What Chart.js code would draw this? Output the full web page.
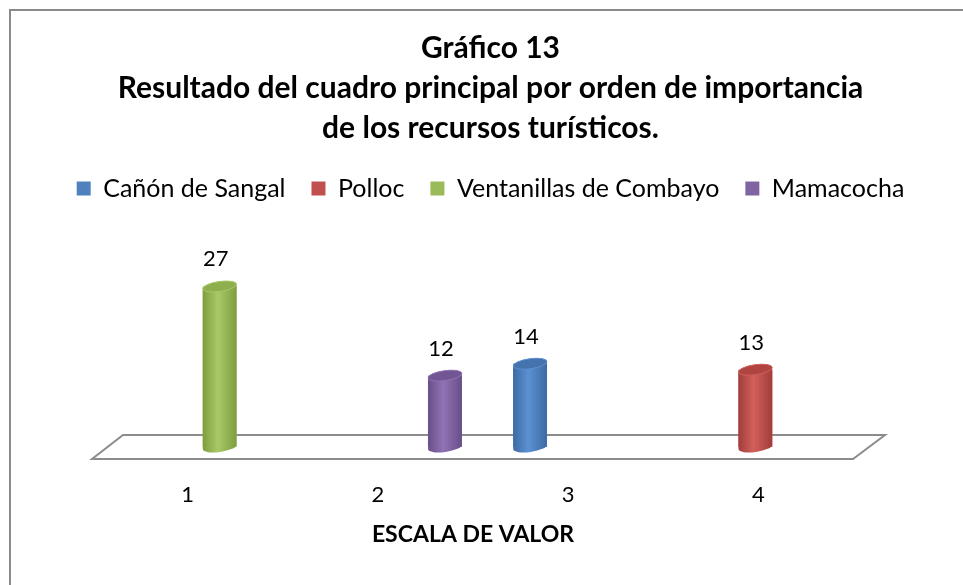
<!DOCTYPE html>
<html>
<head>
<meta charset="utf-8">
<script src="https://cdn.jsdelivr.net/npm/chart.js@4.4.1/dist/chart.umd.min.js"></script>
<style>
  html, body { margin: 0; padding: 0; background: #fff; }
  #wrap { width: 963px; height: 585px; position: relative; }
</style>
</head>
<body>
<div id="wrap"><canvas id="myChart"></canvas></div>
<script>
const categories = ['1', '2', '3', '4'];
const seriesNames = ['Cañón de Sangal', 'Polloc', 'Ventanillas de Combayo', 'Mamacocha'];
const sangal = [null, null, 14, null];
const polloc = [null, null, null, 13];
const ventanillas = [27, null, null, null];
const mamacocha = [null, 12, null, null];
const titleLines = ['Gráfico 13', 'Resultado del cuadro principal por orden de importancia', 'de los recursos turísticos.'];
const axisTitle = 'ESCALA DE VALOR';

const FONT = 'Lato';
// flat / dark edge / light centre / cap
const palette = [
    ['#4f81bd', '#3d6aa3', '#5c91d3', '#4473ae'],
    ['#c0504d', '#a03d3a', '#d2605d', '#b0443f'],
    ['#9bbb59', '#7e9d40', '#a9c967', '#8fae4e'],
    ['#8064a2', '#684e88', '#9073b4', '#725693']
];
const ctx = document.getElementById('myChart');

const scene = {
    id: 'scene',
    beforeDraw(chart) {
        const c = chart.ctx;
        c.save();
        c.strokeStyle = '#8a8a8a';
        c.lineWidth = 2;
        c.strokeRect(10, 10, chart.width + 10, chart.height + 10);
        c.restore();
    },
    beforeDatasetsDraw(chart) {
        // the 3D floor under the cylinders
        const c = chart.ctx, a = chart.chartArea;
        const y0 = chart.scales.y.getPixelForValue(0);
        const d = 12;
        c.save();
        c.beginPath();
        c.moveTo(a.left - 15, y0 + d);
        c.lineTo(a.left + 16, y0 - d);
        c.lineTo(a.right + 17, y0 - d);
        c.lineTo(a.right - 15, y0 + d);
        c.closePath();
        c.fillStyle = '#fff';
        c.fill();
        c.strokeStyle = '#8c8c8c';
        c.lineWidth = 2;
        c.stroke();
        c.restore();
    },
    afterDatasetsDraw(chart) {
        const c = chart.ctx;
        c.save();
        chart.data.datasets.forEach((ds, i) => {
            const meta = chart.getDatasetMeta(i);
            const col = palette[i];
            meta.data.forEach((el, j) => {
                if (ds.data[j] == null) return;
                const r = el.width / 2, x = el.x, top = el.y, base = el.base;
                const ry = 5, tilt = -0.14;
                const g = c.createLinearGradient(x - r, 0, x + r, 0);
                g.addColorStop(0, col[1]);
                g.addColorStop(0.45, col[2]);
                g.addColorStop(1, col[1]);
                c.fillStyle = g;
                c.beginPath();
                c.ellipse(x, base, r, ry, tilt, Math.PI, 0, true);
                c.ellipse(x, top, r, ry, tilt, 0, Math.PI, true);
                c.closePath();
                c.fill();
                c.beginPath();
                c.ellipse(x, top, r, ry, tilt, 0, Math.PI * 2);
                c.fillStyle = col[3];
                c.fill();
                c.strokeStyle = col[2];
                c.lineWidth = 1;
                c.stroke();
                // value label
                c.fillStyle = '#000';
                c.font = '22px ' + FONT;
                c.textAlign = 'center';
                c.textBaseline = 'alphabetic';
                c.fillText(ds.data[j], x - 4, top - 20);
            });
        });
        c.restore();
    },
    afterDraw(chart) {
        const c = chart.ctx, xs = chart.scales.x;
        const off = xs.options.ticks.labelOffset;
        const mid = (xs.getPixelForTick(0) + xs.getPixelForTick(categories.length - 1)) / 2 + off;
        c.save();
        c.fillStyle = '#000';
        c.font = 'bold 23px ' + FONT;
        c.textAlign = 'center';
        c.textBaseline = 'middle';
        c.fillText(axisTitle, mid, 535);
        c.restore();
    }
};

const chartDemo = new Chart(ctx, {
    type: 'bar',
    data: {
        labels: categories,
        datasets: [
            { label: seriesNames[0], data: sangal, backgroundColor: palette[0][0] },
            { label: seriesNames[1], data: polloc, backgroundColor: palette[1][0] },
            { label: seriesNames[2], data: ventanillas, backgroundColor: palette[2][0] },
            { label: seriesNames[3], data: mamacocha, backgroundColor: palette[3][0] }
        ]
    },
    options: {
        responsive: true,
        maintainAspectRatio: false,
        animation: false,
        categoryPercentage: 0.737,
        barPercentage: 0.97,
        layout: { padding: { top: 18, bottom: 0, left: 18, right: 0 } },
        plugins: {
            title: {
                display: true,
                text: titleLines,
                color: '#000',
                font: { family: FONT, size: 30, weight: 'bold', lineHeight: 40 / 30 },
                padding: { top: 10, bottom: 2 }
            },
            legend: {
                display: true,
                labels: {
                    color: '#000',
                    font: { family: FONT, size: 25 },
                    boxWidth: 14,
                    boxHeight: 14,
                    padding: 26
                }
            },
            tooltip: { enabled: false }
        },
        scales: {
            x: {
                grid: { display: false, drawTicks: false },
                border: { display: false },
                ticks: { color: '#000', font: { family: FONT, size: 22 }, padding: 35, labelOffset: -14.5 },
                afterFit(s) { s.height = 138; }
            },
            y: {
                min: 0,
                max: 39.7,
                grid: { display: false, drawTicks: false },
                border: { display: false },
                ticks: { display: false },
                afterFit(s) { s.width = 89; }
            },
            yr: {
                position: 'right',
                min: 0,
                max: 1,
                grid: { display: false, drawTicks: false },
                border: { display: false },
                ticks: { display: false },
                afterFit(s) { s.width = 95; }
            }
        }
    },
    plugins: [scene]
});
</script>
</body>
</html>
